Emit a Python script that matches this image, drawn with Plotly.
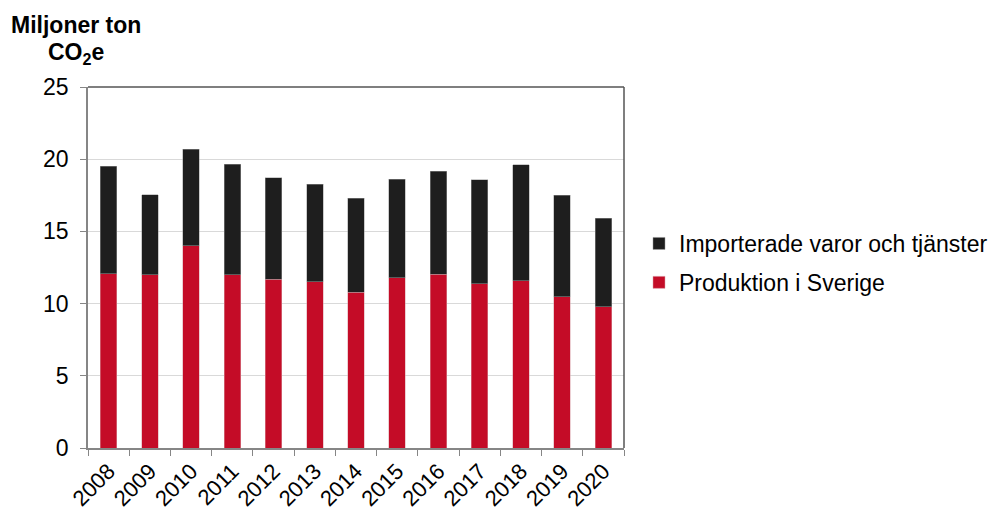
import plotly.graph_objects as go

years = ["2008", "2009", "2010", "2011", "2012", "2013", "2014", "2015", "2016", "2017", "2018", "2019", "2020"]
produktion = [12.07, 12.0, 13.99, 12.0, 11.7, 11.52, 10.78, 11.8, 12.03, 11.36, 11.57, 10.46, 9.78]
importerade = [7.43, 5.54, 6.71, 7.65, 7.02, 6.74, 6.51, 6.8, 7.13, 7.2, 8.03, 7.04, 6.12]
yticks = [0, 5, 10, 15, 20, 25]

FONT = "Liberation Sans, Arial, sans-serif"

fig = go.Figure()
fig.add_trace(go.Bar(x=years, y=produktion, name="Produktion i Sverige",
                     marker=dict(color="#C40C27", line=dict(color="#d9a0a8", width=0.5)),
                     legendgroup="a", legendrank=2))
fig.add_trace(go.Bar(x=years, y=importerade, name="Importerade varor och tjänster",
                     marker=dict(color="#1e1e1e", line=dict(color="#9a9a9a", width=0.5)),
                     legendgroup="b", legendrank=1))

fig.update_layout(
    width=990, height=512,
    margin=dict(l=88, r=366, t=87, b=64, autoexpand=False),
    barmode="stack", bargap=0.6,
    plot_bgcolor="white", paper_bgcolor="white",
    font=dict(family=FONT, size=23, color="black"),
    showlegend=True,
    legend=dict(xref="container", yref="container", x=639 / 990, y=1 - 263 / 512,
                xanchor="left", yanchor="middle",
                traceorder="grouped", tracegroupgap=6,
                font=dict(size=23, family=FONT), itemwidth=30),
    xaxis=dict(type="category", tickson="boundaries", ticks="outside", ticklen=6,
               tickcolor="#868686", showline=True, linecolor="#868686", linewidth=1.5,
               tickangle=-45, tickfont=dict(size=22), showgrid=False, automargin=False),
    yaxis=dict(range=[0, 25], tickvals=yticks, ticks="outside", ticklen=6,
               tickcolor="#868686", showline=True, linecolor="#868686", linewidth=1.5,
               gridcolor="#d9d9d9", gridwidth=1, tickfont=dict(size=23), zeroline=False,
               ticklabelstandoff=7, automargin=False),
    shapes=[
        dict(type="line", xref="paper", yref="paper", x0=0, x1=1, y0=1, y1=1,
             line=dict(color="#555555", width=1.5)),
        dict(type="line", xref="paper", yref="paper", x0=1, x1=1, y0=0, y1=1,
             line=dict(color="#555555", width=1.5)),
    ],
    annotations=[
        dict(text="<b>Miljoner ton</b>", xref="paper", yref="paper", x=-79 / 536, y=1.0,
             yanchor="middle", xanchor="left", showarrow=False,
             font=dict(size=23, family=FONT), yshift=62),
        dict(text="<b>CO<sub>2</sub>e</b>", xref="paper", yref="paper", x=-42 / 536, y=1.0,
             xanchor="left", yanchor="middle", showarrow=False,
             font=dict(size=23, family=FONT), yshift=34),
    ],
)

fig.write_html("out.html")
